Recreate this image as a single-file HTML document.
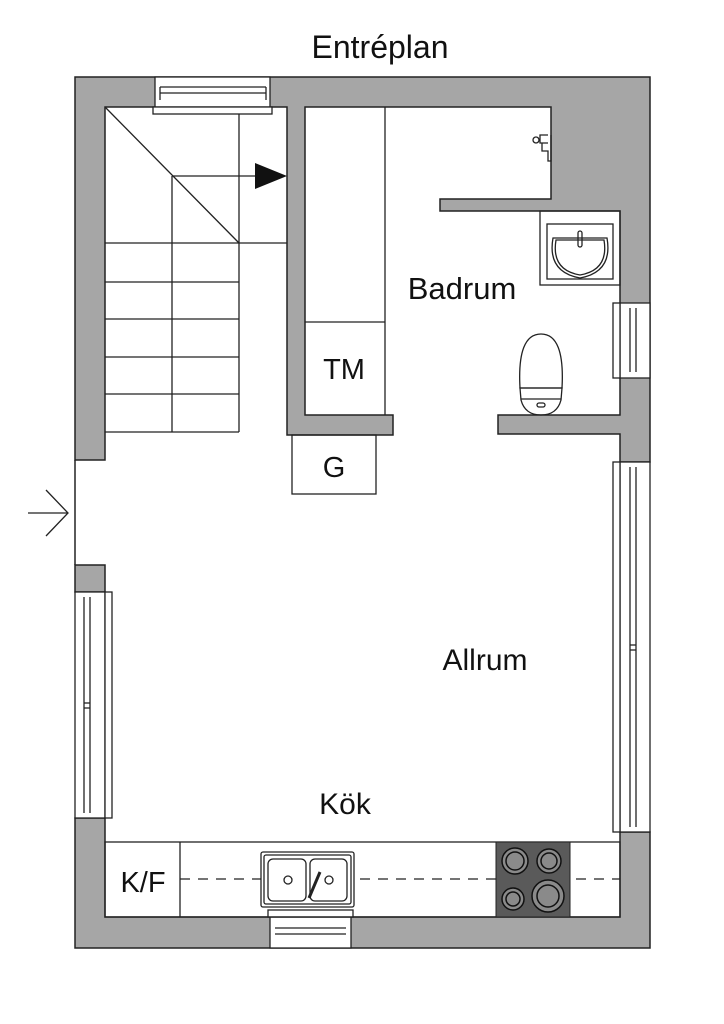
<!DOCTYPE html>
<html><head><meta charset="utf-8"><style>html,body{margin:0;padding:0;background:#fff}svg{display:block}</style></head>
<body>
<svg width="724" height="1024" viewBox="0 0 724 1024" xmlns="http://www.w3.org/2000/svg" font-family="Liberation Sans, sans-serif">
<g stroke="#222" stroke-width="1.5" fill="#a6a6a6">
<path d="M75,77 H650 V462 H620 V434 H498 V415 H620 V378 H620 V303 H620 V211 H440 V199 H551 V107 H305 V415 H393 V435 H287 V107 H105 V460 H75 Z"/>
<path d="M75,565 H105 V592 H75 Z"/>
<path d="M75,818 H105 V917 H620 V832 H650 V948 H75 Z"/>
</g>
<g stroke="#222" stroke-width="1.3" fill="#fff">
<rect x="155" y="77" width="115" height="30"/>
<rect x="153" y="107" width="119" height="7"/>
<line x1="160" y1="87" x2="266" y2="87"/><line x1="160" y1="93" x2="266" y2="93"/>
<line x1="160" y1="87" x2="160" y2="100"/><line x1="266" y1="87" x2="266" y2="100"/>
<rect x="620" y="303" width="30" height="75"/>
<rect x="613" y="303" width="7" height="75"/>
<line x1="630" y1="308" x2="630" y2="372"/><line x1="636" y1="308" x2="636" y2="372"/>
<rect x="620" y="462" width="30" height="370"/>
<rect x="613" y="462" width="7" height="370"/>
<line x1="630" y1="467" x2="630" y2="827"/><line x1="636" y1="467" x2="636" y2="827"/>
<line x1="630" y1="645" x2="636" y2="645"/><line x1="630" y1="650" x2="636" y2="650"/>
<rect x="75" y="592" width="30" height="226"/>
<rect x="105" y="592" width="7" height="226"/>
<line x1="84" y1="597" x2="84" y2="813"/><line x1="90" y1="597" x2="90" y2="813"/>
<line x1="84" y1="703" x2="90" y2="703"/><line x1="84" y1="708" x2="90" y2="708"/>
<rect x="270" y="917" width="81" height="31"/>
<rect x="268" y="910" width="85" height="7"/>
<line x1="275" y1="928" x2="346" y2="928"/><line x1="275" y1="934" x2="346" y2="934"/>
</g>
<line x1="75" y1="460" x2="75" y2="565" stroke="#222" stroke-width="1.5"/>
<g stroke="#222" stroke-width="1.3" fill="none">
<line x1="28" y1="513" x2="68" y2="513"/>
<polyline points="46,490 68,513 46,536"/>
<line x1="105" y1="107" x2="239" y2="243"/>
<line x1="172" y1="176" x2="255" y2="176"/>
<line x1="172" y1="176" x2="172" y2="432"/>
<line x1="239" y1="114" x2="239" y2="432"/>
<line x1="105" y1="243" x2="287" y2="243"/>
<line x1="105" y1="282" x2="239" y2="282"/>
<line x1="105" y1="319" x2="239" y2="319"/>
<line x1="105" y1="357" x2="239" y2="357"/>
<line x1="105" y1="394" x2="239" y2="394"/>
<line x1="105" y1="432" x2="239" y2="432"/>
<line x1="385" y1="107" x2="385" y2="415"/>
<line x1="305" y1="322" x2="385" y2="322"/>
<rect x="292" y="435" width="84" height="59"/>
<rect x="540" y="211" width="80" height="74"/>
<rect x="547" y="224" width="66" height="55"/>
<path d="M553,238 H607 Q613,272 580,278 Q547,272 553,238 Z"/>
<path d="M556,240 H604 Q609,270 580,275 Q551,270 556,240 Z"/>
<rect x="578" y="231" width="4" height="16" rx="2"/>
<path d="M520,388 Q517,334 541,334 Q565,334 562,388 Z"/>
<path d="M520,388 H562 L561,400 Q557,415 541,415 Q525,415 521,400 Z"/>
<line x1="521" y1="399" x2="561" y2="399"/>
<rect x="537" y="403" width="8" height="4" rx="2"/>
<path d="M548,135 h-8 v8 h8 M542,143 v8 h6 v10 h3 v-26"/>
<circle cx="536" cy="140" r="3"/>
<rect x="105" y="842" width="515" height="75"/>
<line x1="180" y1="842" x2="180" y2="917"/>
<line x1="180" y1="879" x2="620" y2="879" stroke-dasharray="10,8"/>
</g>
<polygon points="255,163 287,176 255,189" fill="#111"/>
<g stroke="#222" stroke-width="1.3" fill="#fff">
<rect x="261" y="852" width="93" height="55" rx="2"/>
<rect x="264" y="855" width="87" height="49" rx="2"/>
<rect x="268" y="859" width="38" height="42" rx="5"/>
<rect x="310" y="859" width="37" height="42" rx="5"/>
<circle cx="288" cy="880" r="4"/><circle cx="329" cy="880" r="4"/>
<line x1="320" y1="872" x2="309" y2="898" stroke-width="3"/>
</g>
<rect x="496" y="842" width="74" height="75" fill="#5a5a5a" stroke="#222"/>
<g stroke="#111" stroke-width="1.5" fill="#8a8a8a">
<circle cx="515" cy="861" r="13"/><circle cx="515" cy="861" r="9"/>
<circle cx="549" cy="861" r="12"/><circle cx="549" cy="861" r="8"/>
<circle cx="513" cy="899" r="11"/><circle cx="513" cy="899" r="7"/>
<circle cx="548" cy="896" r="16"/><circle cx="548" cy="896" r="11"/>
</g>
<g fill="#111" text-anchor="middle">
<text x="380" y="58" font-size="32">Entréplan</text>
<text x="462" y="299" font-size="31">Badrum</text>
<text x="485" y="670" font-size="30">Allrum</text>
<text x="345" y="814" font-size="30">Kök</text>
<text x="344" y="379" font-size="29">TM</text>
<text x="334" y="477" font-size="29">G</text>
<text x="143" y="892" font-size="29">K/F</text>
</g>
</svg>
</body></html>
